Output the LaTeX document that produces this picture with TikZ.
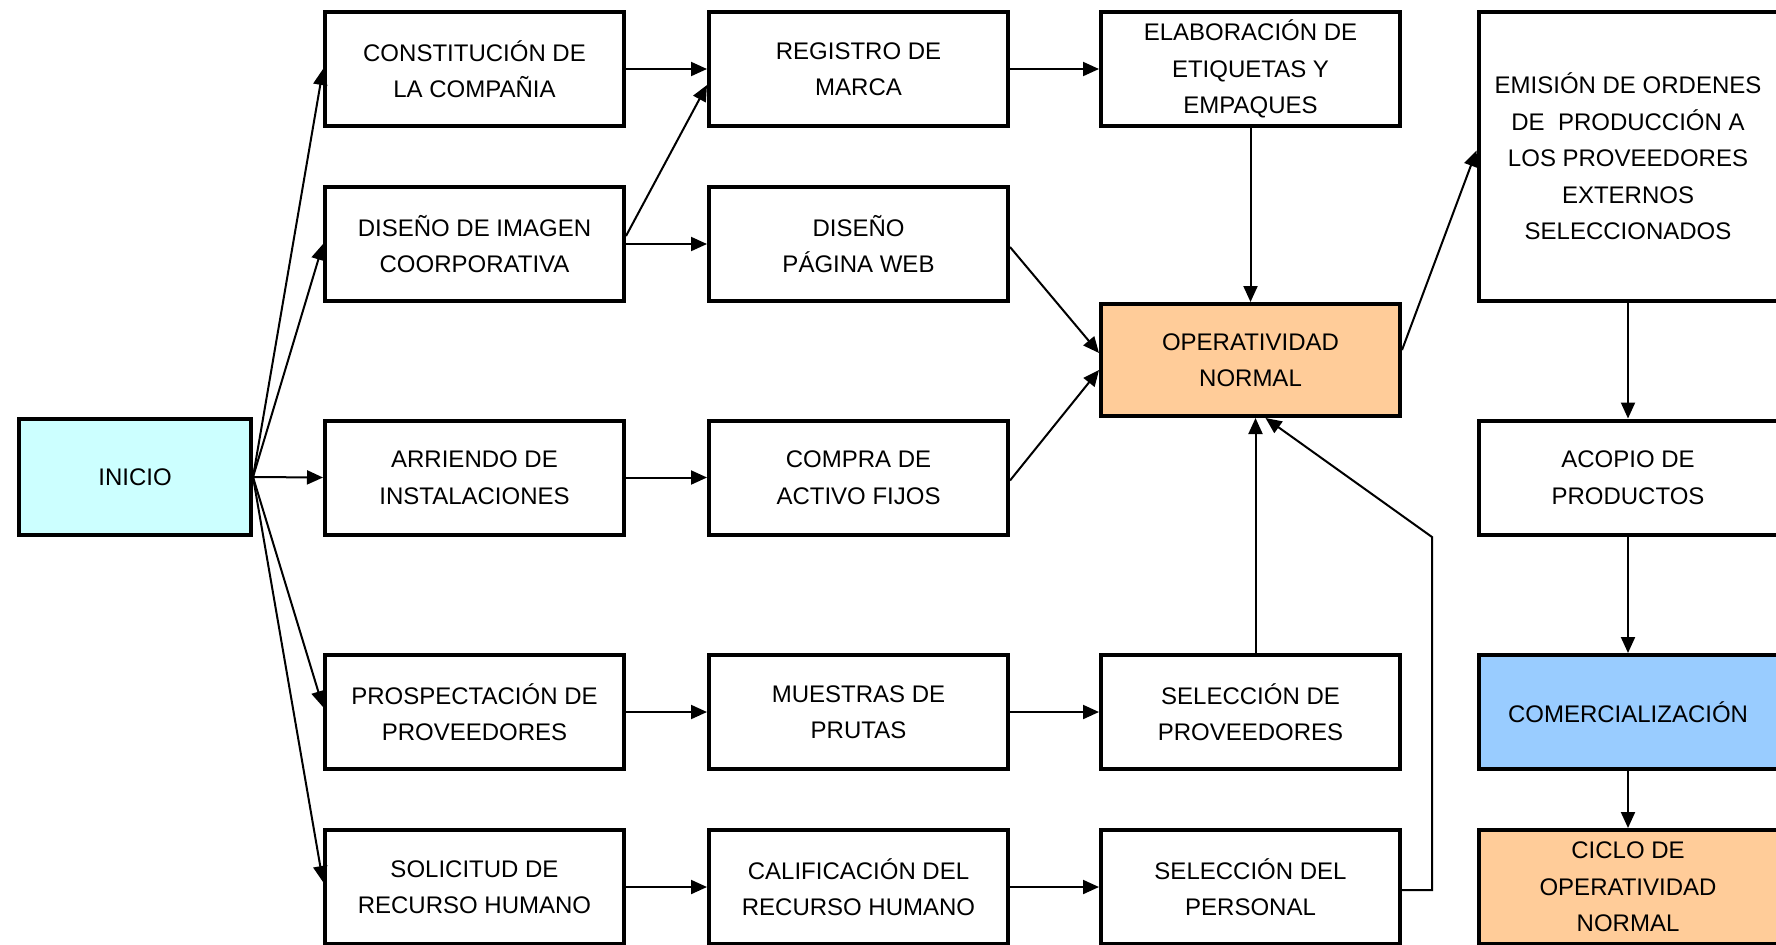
\documentclass[tikz,border=0pt]{standalone}
\usepackage{fontspec}
\setmainfont{Liberation Sans}
\usetikzlibrary{arrows.meta,calc}
\definecolor{cyanfill}{HTML}{CCFFFF}
\definecolor{peach}{HTML}{FFCC99}
\definecolor{skyfill}{HTML}{99CCFF}
\begin{document}
\begin{tikzpicture}[x=0.5pt,y=-0.5pt,
  box/.style={draw,line width=2pt,minimum width=149.5pt,minimum height=57pt,
    inner sep=0pt,align=center,font=\fontsize{12pt}{18.25pt}\selectfont},
  conn/.style={line width=1pt,-{Triangle[length=8pt,width=7pt]}},
]
\useasboundingbox (0,0) rectangle (1776,944);
\clip (0,0) rectangle (1776,944);
% column 0
\node[box,fill=cyanfill,minimum width=116pt,minimum height=58pt] (inicio) at (135,477) {INICIO};
% column 1
\node[box] (cons)   at (474.5,69)  {CONSTITUCIÓN DE\\LA COMPAÑIA};
\node[box] (disimg) at (474.5,244) {DISEÑO DE IMAGEN\\COORPORATIVA};
\node[box] (arr)    at (474.5,477.5) {ARRIENDO DE\\INSTALACIONES};
\node[box] (prosp)  at (474.5,712) {PROSPECTACIÓN DE\\PROVEEDORES};
\node[box] (sol)    at (474.5,887) {SOLICITUD DE\\RECURSO HUMANO};
% column 2
\node[box] (reg)    at (858.5,69)  {REGISTRO DE\\MARCA};
\node[box] (web)    at (858.5,244) {DISEÑO\\PÁGINA WEB};
\node[box] (compra) at (858.5,477.5) {COMPRA DE\\ACTIVO FIJOS};
\node[box] (muest)  at (858.5,712) {MUESTRAS DE\\PRUTAS};
\node[box] (calif)  at (858.5,887) {CALIFICACIÓN DEL\\RECURSO HUMANO};
% column 3
\node[box] (elab)   at (1250.5,69) {ELABORACIÓN DE\\ETIQUETAS Y\\EMPAQUES};
\node[box,fill=peach,minimum height=56pt] (oper) at (1250.5,360) {OPERATIVIDAD\\NORMAL};
\node[box] (selprov) at (1250.5,712) {SELECCIÓN DE\\PROVEEDORES};
\node[box] (selpers) at (1250.5,887) {SELECCIÓN DEL\\PERSONAL};
% column 4
\node[box,minimum height=144.5pt] (emis) at (1628,156.5) {EMISIÓN DE ORDENES\\DE\ \ PRODUCCIÓN A\\LOS PROVEEDORES\\EXTERNOS\\SELECCIONADOS};
\node[box] (acopio) at (1628,477.5) {ACOPIO DE\\PRODUCTOS};
\node[box,fill=skyfill] (comer) at (1628,712) {COMERCIALIZACIÓN};
\node[box,fill=peach] (ciclo) at (1628,887) {CICLO DE\\OPERATIVIDAD\\NORMAL};
% connectors from INICIO
\draw[conn] (inicio.east) -- (cons.west);
\draw[conn] (inicio.east) -- (disimg.west);
\draw[conn] (inicio.east) -- (arr.west);
\draw[conn] (inicio.east) -- ($(prosp.west)+(0,-5)$);
\draw[conn] (inicio.east) -- ($(sol.west)+(0,-5)$);
% row connectors
\draw[conn] (cons.east) -- (reg.west);
\draw[conn] (disimg.east) -- (web.west);
\draw[conn] ($(disimg.east)+(0,-8)$) -- ($(reg.west)+(0,16)$);
\draw[conn] (reg.east) -- (elab.west);
\draw[conn] (elab.south) -- (oper.north);
\draw[conn] ($(web.east)+(0,3)$) -- ($(oper.west)+(0,-7)$);
\draw[conn] ($(compra.east)+(0,3)$) -- ($(oper.west)+(0,10)$);
\draw[conn] ($(oper.east)+(0,-10)$) -- ($(emis.west)+(0,-6)$);
\draw[conn] (emis.south) -- (acopio.north);
\draw[conn] (acopio.south) -- (comer.north);
\draw[conn] (comer.south) -- (ciclo.north);
\draw[conn] (arr.east) -- (compra.west);
\draw[conn] (prosp.east) -- (muest.west);
\draw[conn] (muest.east) -- (selprov.west);
\draw[conn] (sol.east) -- (calif.west);
\draw[conn] (calif.east) -- (selpers.west);
\draw[conn] ($(selprov.north)+(5,0)$) -- ($(oper.south)+(5,0)$);
\coordinate (knee) at (1432,537);
\draw[conn] ($(selpers.east)+(0,3)$) -| (knee) -- ($(oper.south)+(15,0)$);
\end{tikzpicture}
\end{document}
